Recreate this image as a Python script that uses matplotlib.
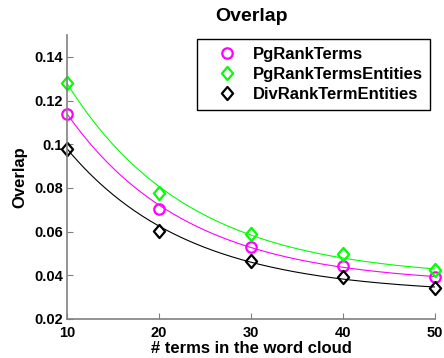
import numpy as np
import matplotlib
matplotlib.use("Agg")
import matplotlib.pyplot as plt
from matplotlib.path import Path

plt.rcParams['font.family'] = ['Liberation Sans', 'DejaVu Sans']
plt.rcParams['font.weight'] = 'bold'

n_terms = np.array([10, 20, 30, 40, 50])
pg_terms = np.array([0.114, 0.0705, 0.0531, 0.0444, 0.0392])
pg_terms_ent = np.array([0.128, 0.0775, 0.0589, 0.0497, 0.0424])
div_terms_ent = np.array([0.098, 0.0601, 0.0467, 0.0393, 0.0343])

names = ["PgRankTerms", "PgRankTermsEntities", "DivRankTermEntities"]
series = [pg_terms, pg_terms_ent, div_terms_ent]
cols = ['#ff00ff', '#00ff00', 'black']

# slightly narrow diamond like the matlab one
diamond = Path([(0, 1), (0.85, 0), (0, -1), (-0.85, 0), (0, 1)],
               [Path.MOVETO, Path.LINETO, Path.LINETO, Path.LINETO, Path.CLOSEPOLY])
marks = ['o', diamond, diamond]
sizes = [7.5, 9.5, 9.5]


def exp_fit(x, y):
    # y = a*exp(-b*x) + c, grid search over c, log-linear fit for a, b
    best = None
    for c in np.linspace(0, y.min() - 1e-4, 400):
        p = np.polyfit(x, np.log(y - c), 1)
        r = np.sum((np.exp(np.polyval(p, x)) + c - y) ** 2)
        if best is None or r < best[0]:
            best = (r, p, c)
    return best[1], best[2]


fig = plt.figure(figsize=(4.44, 3.58), dpi=100)
ax = fig.add_axes([0.151, 0.109, 0.829, 0.793])

xs = np.linspace(10, 50, 200)
for idx, ys in enumerate(series):
    p, c = exp_fit(n_terms, ys)
    ax.plot(xs, np.exp(np.polyval(p, xs)) + c, color=cols[idx], lw=0.8)
    ax.plot(n_terms, ys, linestyle='none', marker=marks[idx], ms=sizes[idx], mew=1.6,
            mfc='none', mec=cols[idx], label=names[idx], clip_on=False)

ax.set_xlim(10, 50)
ax.set_ylim(0.02, 0.15)
ax.set_xticks([10, 20, 30, 40, 50])
ax.set_yticks([0.02, 0.04, 0.06, 0.08, 0.1, 0.12, 0.14])
ax.set_yticklabels(['0.02', '0.04', '0.06', '0.08', '0.1', '0.12', '0.14'])
for s in ['top', 'right']:
    ax.spines[s].set_visible(False)
for s in ['left', 'bottom']:
    ax.spines[s].set_color('#808080')
    ax.spines[s].set_linewidth(1.2)
ax.tick_params(direction='in', length=4, color='#808080', labelsize=10.5)
ax.tick_params(axis='x', pad=5)
ax.tick_params(axis='y', pad=3)
for lab in ax.get_xticklabels() + ax.get_yticklabels():
    lab.set_fontweight('bold')

ax.set_xlabel("# terms in the word cloud", fontsize=12, fontweight='bold', labelpad=1)
ax.set_ylabel("Overlap", fontsize=12, fontweight='bold', labelpad=5)
ax.set_title("Overlap", fontsize=14, fontweight='bold', pad=10)

leg = ax.legend(loc='upper right', bbox_to_anchor=(0.986, 0.986), fontsize=12,
                fancybox=False, edgecolor='black', framealpha=1,
                handlelength=2.6, handletextpad=0.25, borderpad=0.45,
                labelspacing=0.32, borderaxespad=0)
leg.get_frame().set_linewidth(1.0)
for t in leg.get_texts():
    t.set_fontweight('bold')

plt.savefig("out.png", dpi=100)
